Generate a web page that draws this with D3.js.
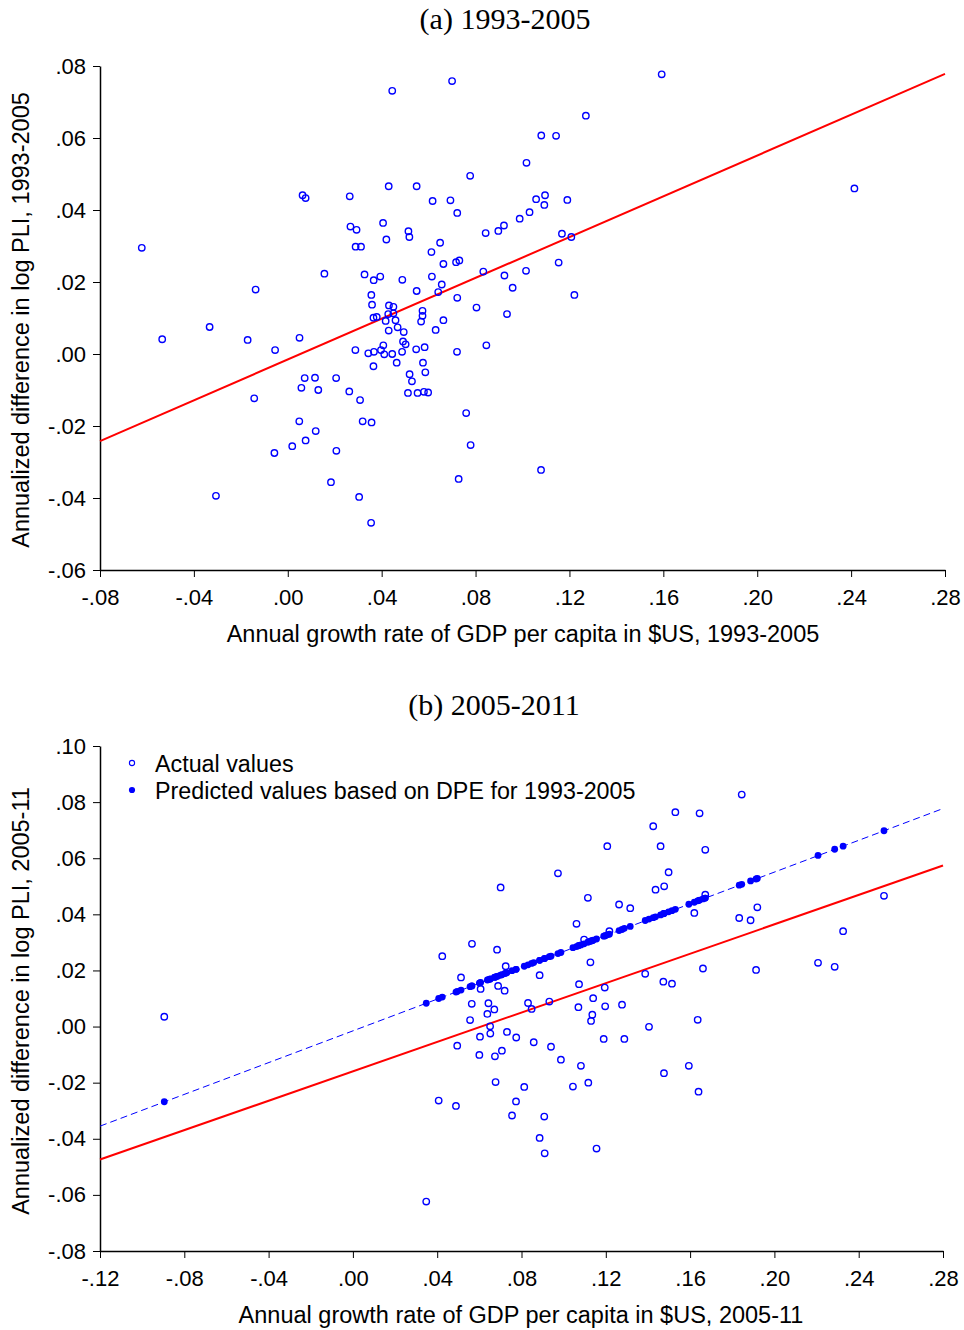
<!DOCTYPE html>
<html><head><meta charset="utf-8">
<script src="https://cdn.jsdelivr.net/npm/d3@7"></script>
<style>
body{margin:0;background:#fff;}
svg{display:block;}
</style></head>
<body>
<svg id="chart" width="964" height="1330"></svg>
<script>
// ---------- Panel (a) data: 1993-2005 ----------
const growthA = [0.0445,0.043,0.0063,0.0076,0.0264,-0.0622,0.0267,0.0293,0.0406,0.0420,0.0289,0.0312,0.0156,0.0327,0.0366,0.0394,-0.0137,0.0356,0.0359,0.0431,0.0450,0.0365,0.0379,0.0488,0.0700,0.1593,0.1270,0.1080,0.1143,0.1017,0.0777,0.0549,0.0617,0.0693,0.0722,0.1058,0.1096,0.1093,0.1191,0.1030,0.0988,0.0897,0.0921,0.0843,0.0514,0.0518,0.1168,0.1208,0.0649,0.0612,0.0663,0.0717,0.0731,0.0833,0.1015,0.1154,0.0923,0.0614,0.0656,0.0549,0.0641,0.0958,0.0722,0.1221,0.0804,0.0934,0.0574,0.0574,0.0663,-0.0535,-0.0333,-0.0171,-0.0054,0.0050,-0.0143,0.0072,0.0116,0.0206,0.0058,0.0130,0.0262,0.0308,0.0049,0.0319,0.0357,0.0119,0.0019,0.0076,-0.0057,0.0207,-0.0306,0.0184,0.0304,0.0355,0.0428,0.0450,0.0417,0.0459,0.0468,0.0430,0.0288,0.0343,0.0367,0.0397,0.0407,0.0411,0.0445,0.0464,0.0365,0.0494,0.0568,0.0630,0.0491,0.0502,0.0487,0.0547,0.0583,0.0721,0.0846,0.0576,0.0586,0.0519,0.0529,0.0512,0.0553,0.0580,0.0598,0.0760,0.0779,0.0728,0.1079,0.2414];
const pliA = [0.0731,0.0466,0.0441,0.0433,0.0438,0.0295,0.0354,0.0345,0.0364,0.0318,0.0298,0.0298,0.0223,0.0221,0.0205,0.0215,0.0179,0.0164,0.0137,0.0135,0.0131,0.0101,0.0103,0.0206,0.0758,0.0777,0.0662,0.0607,0.0606,0.0531,0.0495,0.0466,0.0425,0.0427,0.0392,0.0430,0.0441,0.0414,0.0428,0.0394,0.0376,0.0342,0.0357,0.0336,0.0341,0.0325,0.0334,0.0325,0.0309,0.0283,0.0250,0.0255,0.0260,0.0229,0.0231,0.0254,0.0218,0.0215,0.0193,0.0175,0.0172,0.0184,0.0156,0.0164,0.0129,0.0111,0.0120,0.0106,0.0094,0.0041,0.0075,0.0039,0.0011,0.0045,-0.0123,-0.0067,-0.0066,-0.0067,-0.0094,-0.0100,-0.0104,-0.0128,-0.0187,-0.0187,-0.0190,-0.0214,-0.0256,-0.0240,-0.0275,-0.0269,-0.0394,-0.0356,-0.0397,-0.0469,0.0111,0.0113,0.0092,0.0094,0.0074,0.0065,0.0011,0.0002,0.0006,0.0011,0.0024,-0.0001,0.0000,-0.0024,-0.0034,0.0061,0.0090,0.0067,0.0035,0.0027,0.0006,0.0013,0.0019,0.0006,0.0024,-0.0024,-0.0051,-0.0056,-0.0076,-0.0108,-0.0108,-0.0105,-0.0107,-0.0164,-0.0253,-0.0347,-0.0322,0.0460];
const fitLineA = [[-0.08,-0.0242],[0.28,0.0778]];
const xTicksA = [-0.08,-0.04,0.00,0.04,0.08,0.12,0.16,0.20,0.24,0.28];
const yTicksA = [-0.06,-0.04,-0.02,0.00,0.02,0.04,0.06,0.08];

// ---------- Panel (b) data: 2005-2011 ----------
const growthB = [0.1530,0.1425,0.1460,0.1207,0.0973,0.1498,0.1436,0.1477,0.0701,0.1115,0.1263,0.1316,0.1061,0.1217,0.1097,0.1127,0.0565,0.0424,0.0684,0.0725,0.0513,0.0886,0.1387,0.0689,0.0720,0.0606,0.1073,0.1195,0.1473,0.1514,0.0564,0.0643,0.0671,0.0638,0.0831,0.0848,0.0932,0.1140,0.1197,0.1277,0.1070,0.1136,0.1130,0.0556,0.0651,0.0603,0.0652,0.0731,0.0775,0.0858,0.0940,0.0495,0.0600,0.0707,0.0674,0.0987,0.1082,0.1190,0.1288,0.1405,0.1636,0.1594,0.1476,0.1640,0.0677,0.0813,0.1044,0.1117,0.0407,0.0489,0.0774,0.0755,0.0908,0.0886,0.0910,0.1156,0.0348,0.1845,0.1645,0.1672,0.1672,0.1620,0.1833,0.1887,0.1919,0.2520,0.2326,0.2207,0.2286,0.1913,0.1661,-0.0895];
const actualB = [0.0764,0.0714,0.0643,0.0643,0.0546,0.0550,0.0488,0.0500,0.0496,0.0459,0.0435,0.0422,0.0366,0.0340,0.0310,0.0229,0.0295,0.0251,0.0274,0.0215,0.0175,0.0183,0.0188,0.0145,0.0128,0.0134,0.0151,0.0139,0.0160,0.0153,0.0081,0.0083,0.0061,0.0045,0.0084,0.0063,0.0089,0.0101,0.0072,0.0078,0.0069,0.0042,0.0020,0.0023,0.0001,-0.0036,-0.0025,-0.0019,-0.0039,-0.0056,-0.0072,-0.0068,-0.0101,-0.0086,-0.0106,-0.0118,-0.0140,-0.0044,-0.0044,-0.0001,0.0024,-0.0140,-0.0166,-0.0232,-0.0198,-0.0215,-0.0214,-0.0200,-0.0264,-0.0283,-0.0267,-0.0317,-0.0321,-0.0397,-0.0452,-0.0435,-0.0624,0.0827,0.0760,0.0630,0.0470,0.0405,0.0387,0.0379,0.0425,0.0466,0.0340,0.0227,0.0213,0.0202,0.0207,0.0035];
const predictedB = [0.0418,0.0388,0.0398,0.0327,0.0260,0.0409,0.0391,0.0403,0.0183,0.0301,0.0342,0.0357,0.0285,0.0329,0.0295,0.0304,0.0145,0.0105,0.0179,0.0190,0.0130,0.0236,0.0378,0.0180,0.0189,0.0157,0.0289,0.0323,0.0402,0.0413,0.0145,0.0167,0.0175,0.0166,0.0220,0.0225,0.0249,0.0308,0.0324,0.0346,0.0288,0.0306,0.0305,0.0142,0.0169,0.0156,0.0170,0.0192,0.0204,0.0228,0.0251,0.0125,0.0155,0.0185,0.0176,0.0264,0.0291,0.0322,0.0350,0.0383,0.0448,0.0436,0.0403,0.0449,0.0177,0.0215,0.0281,0.0301,0.0100,0.0123,0.0204,0.0199,0.0242,0.0236,0.0243,0.0312,0.0083,0.0507,0.0451,0.0458,0.0458,0.0443,0.0504,0.0519,0.0528,0.0698,0.0643,0.0610,0.0632,0.0526,0.0455,-0.0268];
const fitLineB = [[-0.12,-0.0474],[0.28,0.0574]];
const dpeLineB = [[-0.12,-0.0355],[0.28,0.0777]];
const xTicksB = [-0.12,-0.08,-0.04,0.00,0.04,0.08,0.12,0.16,0.20,0.24,0.28];
const yTicksB = [-0.08,-0.06,-0.04,-0.02,0.00,0.02,0.04,0.06,0.08,0.10];
const legendLabels = ["Actual values","Predicted values based on DPE for 1993-2005"];

// ---------- drawing ----------
const BLUE = "#0000ff", RED = "#ff0000";
const SANS = "'Liberation Sans', Arial, sans-serif";
const SERIF = "'Liberation Serif', 'Times New Roman', serif";
const svg = d3.select("#chart");

function fmt(v){
  const r = Math.round(v*100)/100;
  const s = Math.abs(r).toFixed(2).replace(/^0/,"");
  return (r < 0 ? "-" : "") + s;
}

function drawAxes(g, x, y, xt, yt, xTitle, yTitle, cfg){
  const [x0,x1] = x.range();
  const [y0,y1] = y.range();
  const xa = g.append("g").attr("transform",`translate(0,${y0})`)
    .call(d3.axisBottom(x).tickValues(xt).tickFormat(fmt).tickSize(7).tickSizeOuter(0).tickPadding(12));
  const ya = g.append("g").attr("transform",`translate(${x0},0)`)
    .call(d3.axisLeft(y).tickValues(yt).tickFormat(fmt).tickSize(7).tickSizeOuter(0).tickPadding(7));
  [xa,ya].forEach(a=>{
    a.select(".domain").attr("stroke","#000").attr("stroke-width",1.5);
    a.selectAll(".tick line").attr("stroke","#000").attr("stroke-width",1);
    a.selectAll(".tick text").attr("fill","#000").style("font-family",SANS).style("font-size","22px");
  });
  g.append("text").attr("x",cfg.xTitleX).attr("y",cfg.xTitleY).attr("text-anchor","middle")
    .style("font-family",SANS).style("font-size","23.5px").attr("fill","#000").text(xTitle);
  g.append("text").attr("transform",`translate(${cfg.yTitleX},${cfg.yTitleY}) rotate(-90)`)
    .attr("text-anchor","middle").style("font-family",SANS).style("font-size","23.5px").attr("fill","#000").text(yTitle);
}

// Panel (a)
{
  const x = d3.scaleLinear().domain([-0.08,0.28]).range([100,945]);
  const y = d3.scaleLinear().domain([-0.06,0.08]).range([570,66]);
  const g = svg.append("g");
  g.append("text").attr("x",505).attr("y",29).attr("text-anchor","middle")
    .style("font-family",SERIF).style("font-size","30px").attr("fill","#000").text("(a) 1993-2005");
  drawAxes(g,x,y,xTicksA,yTicksA,"Annual growth rate of GDP per capita in $US, 1993-2005","Annualized difference in log PLI, 1993-2005",
    {xTitleX:523,xTitleY:642,yTitleX:29,yTitleY:320});
  g.append("path").datum(fitLineA)
    .attr("d",d3.line().x(d=>x(d[0])).y(d=>y(d[1])))
    .attr("stroke",RED).attr("stroke-width",2).attr("fill","none");
  g.append("g").selectAll("circle").data(growthA.map((v,i)=>[v,pliA[i]])).join("circle")
    .attr("cx",d=>x(d[0])).attr("cy",d=>y(d[1])).attr("r",3.2)
    .attr("fill","none").attr("stroke",BLUE).attr("stroke-width",1.4);
}

// Panel (b)
{
  const x = d3.scaleLinear().domain([-0.12,0.28]).range([100,943]);
  const y = d3.scaleLinear().domain([-0.08,0.10]).range([1251,746]);
  const g = svg.append("g");
  g.append("text").attr("x",494).attr("y",715).attr("text-anchor","middle")
    .style("font-family",SERIF).style("font-size","30px").attr("fill","#000").text("(b) 2005-2011");
  drawAxes(g,x,y,xTicksB,yTicksB,"Annual growth rate of GDP per capita in $US, 2005-11","Annualized difference in log PLI, 2005-11",
    {xTitleX:521,xTitleY:1323,yTitleX:29,yTitleY:1001});
  const line = d3.line().x(d=>x(d[0])).y(d=>y(d[1]));
  g.append("path").datum(dpeLineB).attr("d",line)
    .attr("stroke",BLUE).attr("stroke-width",1).attr("stroke-dasharray","7,4").attr("fill","none");
  g.append("path").datum(fitLineB).attr("d",line)
    .attr("stroke",RED).attr("stroke-width",2).attr("fill","none");
  g.append("g").selectAll("circle").data(growthB.map((v,i)=>[v,predictedB[i]])).join("circle")
    .attr("cx",d=>x(d[0])).attr("cy",d=>y(d[1])).attr("r",3.4)
    .attr("fill",BLUE).attr("stroke","none");
  g.append("g").selectAll("circle").data(growthB.map((v,i)=>[v,actualB[i]])).join("circle")
    .attr("cx",d=>x(d[0])).attr("cy",d=>y(d[1])).attr("r",3.2)
    .attr("fill","none").attr("stroke",BLUE).attr("stroke-width",1.4);
  const lg = g.append("g");
  lg.append("circle").attr("cx",132).attr("cy",763).attr("r",2.6).attr("fill","none").attr("stroke",BLUE).attr("stroke-width",1.1);
  lg.append("circle").attr("cx",132).attr("cy",790).attr("r",3.1).attr("fill",BLUE);
  lg.selectAll("text").data(legendLabels).join("text")
    .attr("x",155).attr("y",(d,i)=>772+i*27)
    .style("font-family",SANS).style("font-size","23.3px").attr("fill","#000").text(d=>d);
}
</script>
</body></html>
